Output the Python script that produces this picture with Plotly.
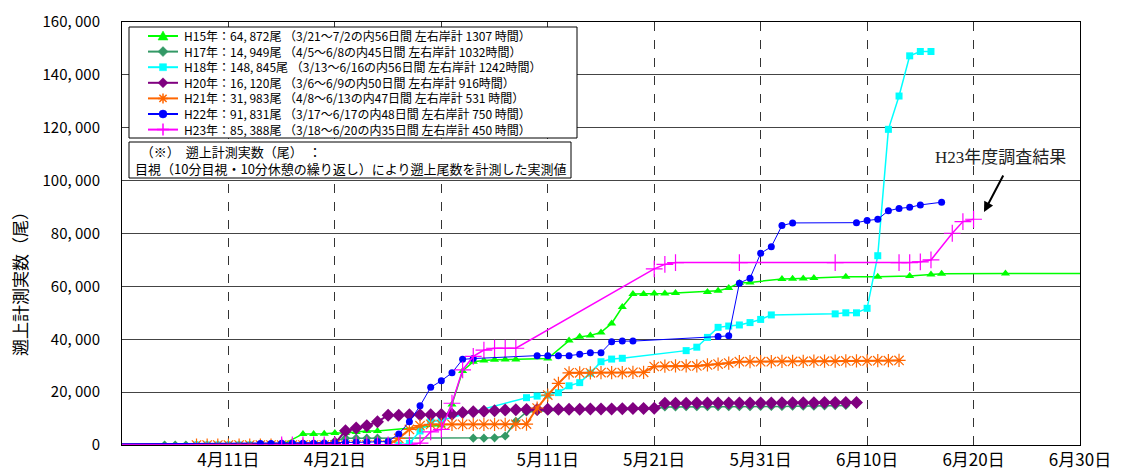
import plotly.graph_objects as go
from datetime import date, timedelta

YEAR = 2011


def days(start, end):
    """consecutive calendar days (MM-DD) from start to end inclusive"""
    m0, d0 = map(int, start.split("-"))
    m1, d1 = map(int, end.split("-"))
    a, b = date(YEAR, m0, d0), date(YEAR, m1, d1)
    out = []
    while a <= b:
        out.append(a.strftime("%m-%d"))
        a += timedelta(days=1)
    return out


def full(lst):
    return [f"{YEAR}-{s}" for s in lst]


# ---------------- data ----------------
h15_dates = ["03-21", "04-05", "04-16"] + days("04-18", "04-25") + ["05-01"] + days("05-02", "05-08") + \
    ["05-11"] + days("05-13", "05-23") + days("05-26", "05-30") + days("06-02", "06-05") + \
    ["06-08", "06-11", "06-14", "06-16", "06-17", "06-23", "07-02"]
h15_vals = [0, 0, 0, 4200, 4200, 4300, 4500, 4500, 4900, 5300, 5300, 7500,
            15300, 28000, 31500, 32000, 32200, 32300, 32300,
            32700, 39500, 40900, 41400, 42600, 46000, 52200, 57100, 57100, 57300, 57300, 57500,
            57900, 58300, 59400, 61300, 61500, 62800, 62900, 63000, 63200,
            63600, 63600, 63900, 64500, 64800, 64872, 64872]

h17_dates = days("04-05", "04-20") + days("04-21", "04-25") + days("05-04", "05-21") + days("05-22", "06-08")
h17_vals = [0] * 16 + [1500, 2600, 2600, 2600, 2600] + \
    [2600, 2600, 2700, 3400, 9000, 12500, 12800, 13000, 13100, 13200, 13200, 13300, 13300, 13400, 13400, 13500, 13500, 13600] + \
    [14400, 14400, 14500, 14500, 14500, 14500, 14500, 14500, 14500, 14600, 14600, 14600, 14700, 14700, 14700, 14800, 14900, 14949]

h18_dates = ["03-13"] + days("04-08", "04-27") + days("04-28", "05-01") + days("05-09", "05-18") + \
    days("05-24", "06-01") + days("06-07", "06-16")
h18_vals = [0] + [0] * 20 + [600, 5300, 8800, 9400] + \
    [17900, 18500, 18900, 19800, 22400, 23600, 27200, 31500, 32500, 32800] + \
    [35700, 37000, 40700, 44500, 45000, 45400, 46300, 47500, 49200] + \
    [49600, 50000, 50000, 51700, 71600, 119400, 132000, 147200, 148845, 148845]

h20_dates = ["03-06"] + days("04-21", "06-09")
h20_vals = [0] + [500, 5400, 6400, 7300, 8800, 11300, 11300, 11400, 11400, 11400] + \
    [11500, 11600, 12300, 12600, 12800, 13000, 13200, 13300, 13400, 13400, 13500, 13500, 13500, 13500,
     13600, 13600, 13600, 13700, 13800, 13800, 13900] + [15800] + \
    [15800, 15800, 15900, 15900, 15900, 15900, 15900, 15900, 15900, 15900, 16000, 16000, 16000, 16000,
     16100, 16100, 16100] + [16120]

h21_dates = days("04-08", "06-13")
h21_vals = [0] * 19 + [2500, 5900, 7300, 7800] + [7800] * 8 + [7900] + \
    [14000, 18900, 23300, 27300] + [27300, 27300, 27400, 27400, 27400, 27500, 27500] + [29700] + \
    [29800, 29900, 29900, 29900] + [30300, 30600, 31000, 31500] + \
    [31500, 31500, 31500, 31600, 31600, 31600, 31700, 31700, 31700, 31800, 31800, 31800, 31900, 31900, 31983]

h22_dates = ["03-17"] + days("04-14", "05-04") + days("05-10", "05-19") + ["05-27", "05-28"] + \
    days("05-29", "06-03") + days("06-09", "06-15") + ["06-17"]
h22_vals = [0] + [600, 600, 700, 700, 700, 700, 800, 800, 900, 1000, 1100, 1300, 1300,
                  4200, 8800, 14800, 21800, 24300, 27300, 32400, 32700] + \
    [33800, 33800, 33800, 33800, 34300, 34900, 34900, 39100, 39300, 39300] + [41000, 41300] + \
    [61200, 63100, 72500, 75000, 83000, 84000] + [84100, 84900, 85400, 88600, 89500, 89900, 90800] + [91831]

h23_dates = ["03-18"] + days("04-16", "05-08") + days("05-21", "05-23") + ["05-29", "06-07"] + \
    days("06-13", "06-16") + days("06-18", "06-20")
h23_vals = [0] + [0] * 13 + [700, 5000, 5900, 15800, 28400, 33500, 35900, 36600, 36600, 36600] + \
    [66600, 68300, 69000] + [69000, 69000] + [69000, 69000, 69300, 70000] + [80100, 84500, 85388]

legend_names = [
    "H15年：64, 872尾 （3/21～7/2の内56日間 左右岸計 1307 時間）",
    "H17年：14, 949尾 （4/5～6/8の内45日間 左右岸計 1032時間）",
    "H18年：148, 845尾 （3/13～6/16の内56日間 左右岸計 1242時間）",
    "H20年：16, 120尾 （3/6～6/9の内50日間 左右岸計 916時間）",
    "H21年：31, 983尾 （4/8～6/13の内47日間 左右岸計 531 時間）",
    "H22年：91, 831尾 （3/17～6/17の内48日間 左右岸計 750 時間）",
    "H23年：85, 388尾 （3/18～6/20の内35日間 左右岸計 450 時間）",
]

x_tick_dates = ["04-11", "04-21", "05-01", "05-11", "05-21", "05-31", "06-10", "06-20", "06-30"]
x_tick_text = ["4月11日", "4月21日", "5月1日", "5月11日", "5月21日", "5月31日", "6月10日", "6月20日", "6月30日"]
y_ticks = [0, 20000, 40000, 60000, 80000, 100000, 120000, 140000, 160000]
y_tick_text = [f"{v:,}".replace(",", ", ") for v in y_ticks]

series = [
    (h15_dates, h15_vals), (h17_dates, h17_vals), (h18_dates, h18_vals), (h20_dates, h20_vals),
    (h21_dates, h21_vals), (h22_dates, h22_vals), (h23_dates, h23_vals),
]
for dts, vals in series:
    assert len(dts) == len(vals), (len(dts), len(vals))

styles = [
    dict(color="#00FF00", symbol="triangle-up", size=8, lw=1.5, mlw=0),
    dict(color="#339966", symbol="diamond", size=7, lw=1.5, mlw=0),
    dict(color="#00FFFF", symbol="square", size=7, lw=1.5, mlw=0),
    dict(color="#800080", symbol="diamond", size=10, lw=2, mlw=0),
    dict(color="#FF6600", symbol="asterisk-open", size=11, lw=2, mlw=1.2),
    dict(color="#0000FF", symbol="circle", size=7, lw=1, mlw=0),
    dict(color="#FF00FF", symbol="cross-thin-open", size=12, lw=1.5, mlw=1.2),
]

FONT = "Noto Sans CJK JP, Noto Sans, sans-serif"

fig = go.Figure()
for (dts, vals), name, st in zip(series, legend_names, styles):
    fig.add_trace(go.Scatter(
        x=full(dts), y=vals, name=name, mode="lines+markers", showlegend=False,
        line=dict(color=st["color"], width=st["lw"]),
        marker=dict(symbol=st["symbol"], size=st["size"], color=st["color"],
                    line=dict(color=st["color"], width=st["mlw"])),
    ))

# plot-area geometry in window px (the page body adds an 8px offset)
PAGE_OFF = 8
FIG_W, FIG_H = 1125 - PAGE_OFF, 471 - PAGE_OFF
L, R, T, B = 122, 1080, 22, 445
W, H = R - L, B - T


def px_x(x):
    return (x - L) / W


def px_y(y):
    return 1 - (y - T) / H


fig.update_layout(
    width=FIG_W, height=FIG_H,
    margin=dict(l=L - PAGE_OFF, r=FIG_W - (R - PAGE_OFF), t=T - PAGE_OFF, b=FIG_H - (B - PAGE_OFF),
                autoexpand=False),
    paper_bgcolor="white", plot_bgcolor="white",
    font=dict(family=FONT, color="black"),
    showlegend=False,
    xaxis=dict(type="date", range=[f"{YEAR}-04-01", f"{YEAR}-06-30"], automargin=False,
               tickvals=full(x_tick_dates), ticktext=x_tick_text,
               showgrid=True, griddash="dash", gridcolor="#333333", gridwidth=1,
               showline=True, linecolor="black", linewidth=1, mirror=True,
               ticks="", ticklabelstandoff=0, tickfont=dict(size=17, family=FONT), zeroline=False),
    yaxis=dict(range=[0, 160000], tickvals=y_ticks, ticktext=y_tick_text, automargin=False,
               showgrid=True, gridcolor="#444444", gridwidth=1,
               showline=True, linecolor="black", linewidth=1, mirror=True,
               ticks="", ticklabelstandoff=18, tickfont=dict(size=15, family=FONT), zeroline=False),
)

# ---------- legend box (drawn manually to match the compact row spacing) ----------
FS_LEG = 12
row_gap = FS_LEG * 1.3
row0 = 36
shapes = []
shapes.append(dict(type="rect", xref="paper", yref="paper",
                   x0=px_x(129), x1=px_x(577), y0=px_y(138), y1=px_y(27),
                   line=dict(color="black", width=1), fillcolor="white", layer="above"))
marker_paths = {
    "triangle-up": "M0,5 L5,-4 L-5,-4 Z",
    "diamond": "M0,5 L5,0 L0,-5 L-5,0 Z",
    "square": "M-3.5,-3.5 L3.5,-3.5 L3.5,3.5 L-3.5,3.5 Z",
    "asterisk-open": "M-5,0 L5,0 M0,-5 L0,5 M-3.6,-3.6 L3.6,3.6 M-3.6,3.6 L3.6,-3.6",
    "cross-thin-open": "M-6,0 L6,0 M0,-6 L0,6",
}
for i, st in enumerate(styles):
    yc = row0 + i * row_gap
    shapes.append(dict(type="line", xref="paper", yref="paper",
                       x0=px_x(148), x1=px_x(178), y0=px_y(yc), y1=px_y(yc),
                       line=dict(color=st["color"], width=2), layer="above"))
    if st["symbol"] == "circle":
        shapes.append(dict(type="circle", xref="paper", yref="paper",
                           xsizemode="pixel", ysizemode="pixel",
                           xanchor=px_x(163), yanchor=px_y(yc), x0=-4, x1=4, y0=-4, y1=4,
                           line=dict(color=st["color"], width=0.5), fillcolor=st["color"], layer="above"))
        continue
    open_sym = st["symbol"] in ("asterisk-open", "cross-thin-open")
    shapes.append(dict(type="path", xref="paper", yref="paper",
                       xsizemode="pixel", ysizemode="pixel",
                       xanchor=px_x(163), yanchor=px_y(yc),
                       path=marker_paths[st["symbol"]],
                       line=dict(color=st["color"], width=1.5 if open_sym else 0.5),
                       fillcolor=None if open_sym else st["color"], layer="above"))
fig.add_annotation(xref="paper", yref="paper", x=px_x(182), y=px_y(row0 + 3 * row_gap),
                   xanchor="left", yanchor="middle", align="left",
                   text="<br>".join(legend_names), showarrow=False, font=dict(size=FS_LEG, family=FONT))

# note box
shapes.append(dict(type="rect", xref="paper", yref="paper",
                   x0=px_x(129), x1=px_x(571), y0=px_y(178), y1=px_y(142),
                   line=dict(color="black", width=1), fillcolor="white", layer="above"))
fig.update_layout(shapes=shapes)

fig.add_annotation(xref="paper", yref="paper", x=px_x(133), y=px_y(160), xanchor="left", yanchor="middle",
                   align="left",
                   text="  （※）  遡上計測実数（尾）  ：<br>目視（10分目視・10分休憩の繰り返し）により遡上尾数を計測した実測値",
                   showarrow=False, font=dict(size=13, family=FONT))

# y-axis title
fig.add_annotation(xref="paper", yref="paper", x=px_x(19), y=px_y(280), xanchor="center", yanchor="middle",
                   text="遡上計測実数（尾）", textangle=-90, showarrow=False, font=dict(size=17, family=FONT))

# H23 callout
fig.add_annotation(xref="paper", yref="paper", x=px_x(1000), y=px_y(157), xanchor="center", yanchor="middle",
                   text="H23年度調査結果", showarrow=False,
                   font=dict(size=17, family="Liberation Serif, Noto Sans CJK JP", color="#222222"))
fig.add_annotation(xref="paper", yref="paper", x=px_x(984), y=px_y(212), ax=20, ay=-38,
                   text="", showarrow=True, arrowhead=2, arrowsize=1, arrowwidth=2, arrowcolor="black")

fig.write_html("out.html")
